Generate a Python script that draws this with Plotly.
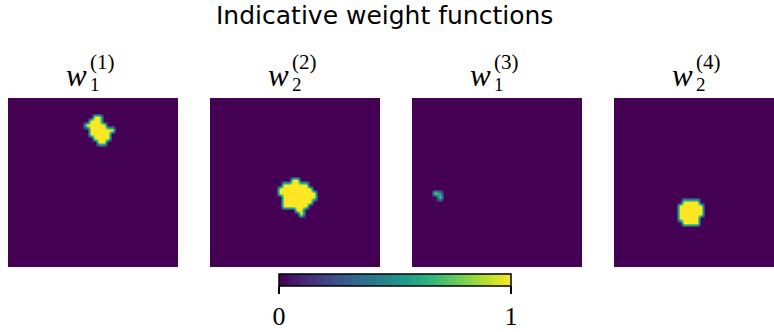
import plotly.graph_objects as go

# ---------------- data ----------------
GRID_N = 40
TITLE = "Indicative weight functions"
PANEL_SUB = ["1", "2", "1", "2"]
PANEL_SUP = ["(1)", "(2)", "(3)", "(4)"]
CBAR_TICKVALS = [0, 1]
CBAR_TICKTEXT = ["0", "1"]

# each blob: (row, col_start, col_end, value)
W1_1 = [(4, 20, 21, 1), (5, 19, 21, 1), (6, 18, 22, 1), (7, 19, 24, 1),
        (8, 19, 23, 1), (9, 20, 23, 1), (10, 21, 22, 1)]
W2_2 = [(19, 19, 20, 1), (20, 17, 22, 1), (21, 16, 23, 1), (22, 16, 24, 1),
        (23, 17, 24, 1), (24, 17, 23, 1), (25, 17, 22, 1), (26, 20, 21, 1),
        (27, 21, 21, 1)]
W1_3 = [(22, 5, 5, 0.8), (23, 6, 6, 0.75), (22, 6, 6, 0.5)]
W2_4 = [(24, 16, 19, 1), (25, 15, 20, 1), (26, 15, 20, 1), (27, 15, 20, 1),
        (28, 15, 19, 1), (29, 16, 19, 1)]
BLOBS = [W1_1, W2_2, W1_3, W2_4]


def build(spans):
    z = [[0.0] * GRID_N for _ in range(GRID_N)]
    for r, c0, c1, v in spans:
        for c in range(c0, c1 + 1):
            z[r][c] = v
    return z


# ---------------- layout (pixels) ----------------
W, H = 774, 332
PANEL_LEFT = [8, 210, 412, 614]
PANEL_W = 170
PANEL_TOP, PANEL_BOT = 98, 267
CELL = PANEL_W / GRID_N


def px(x):
    return x / W


def py(y):
    return 1 - y / H


fig = go.Figure()
idx = list(range(GRID_N))
for i, spans in enumerate(BLOBS):
    k = "" if i == 0 else str(i + 1)
    tr = go.Heatmap(
        z=build(spans), x=idx, y=idx, zmin=0, zmax=1,
        colorscale="Viridis", zsmooth="best",
        xaxis="x" + k, yaxis="y" + k, hoverinfo="skip",
        showscale=(i == 0),
    )
    if i == 0:
        tr.colorbar = dict(
            orientation="h", thickness=12, thicknessmode="pixels",
            len=232, lenmode="pixels",
            x=px(395), xanchor="center", y=py(274), yanchor="top",
            xpad=0, ypad=0,
            outlinewidth=1.5, outlinecolor="black",
            tickvals=CBAR_TICKVALS, ticktext=CBAR_TICKTEXT,
            ticks="outside", ticklen=8, tickwidth=1.5, tickcolor="black",
            tickfont=dict(family="Liberation Serif", size=26, color="black"),
        )
    fig.add_trace(tr)

    left = PANEL_LEFT[i]
    right = min(left + PANEL_W, W)
    xr = [-0.5, -0.5 + (right - left) / CELL]
    fig.layout["xaxis" + k] = dict(
        domain=[px(left), px(right)], range=xr, visible=False,
        anchor="y" + k, fixedrange=True)
    fig.layout["yaxis" + k] = dict(
        domain=[py(PANEL_BOT), py(PANEL_TOP)], range=[GRID_N - 0.5, -0.5],
        visible=False, anchor="x" + k, fixedrange=True)

    cx = left + 85
    fig.add_annotation(text="<i>w</i>", x=px(cx - 4), y=py(75),
                       xref="paper", yref="paper", xanchor="right",
                       yanchor="middle", showarrow=False,
                       font=dict(family="Liberation Serif", size=31, color="black"))
    fig.add_annotation(text=PANEL_SUB[i], x=px(cx - 5), y=py(84),
                       xref="paper", yref="paper", xanchor="left",
                       yanchor="middle", showarrow=False,
                       font=dict(family="Liberation Serif", size=19, color="black"))
    fig.add_annotation(text=PANEL_SUP[i], x=px(cx - 5), y=py(62),
                       xref="paper", yref="paper", xanchor="left",
                       yanchor="middle", showarrow=False,
                       font=dict(family="Liberation Serif", size=21, color="black"))

fig.add_annotation(text=TITLE, x=px(384), y=py(15), xref="paper", yref="paper",
                   xanchor="center", yanchor="middle", showarrow=False,
                   font=dict(family="DejaVu Sans", size=25, color="black"))

fig.update_layout(
    width=W, height=H,
    margin=dict(l=0, r=0, t=0, b=0, autoexpand=False),
    paper_bgcolor="white", plot_bgcolor="white", showlegend=False,
)

fig.write_html(
    "out.html", config={"displayModeBar": False},
    post_script="document.body.style.margin='0';document.body.style.overflow='hidden';",
)
